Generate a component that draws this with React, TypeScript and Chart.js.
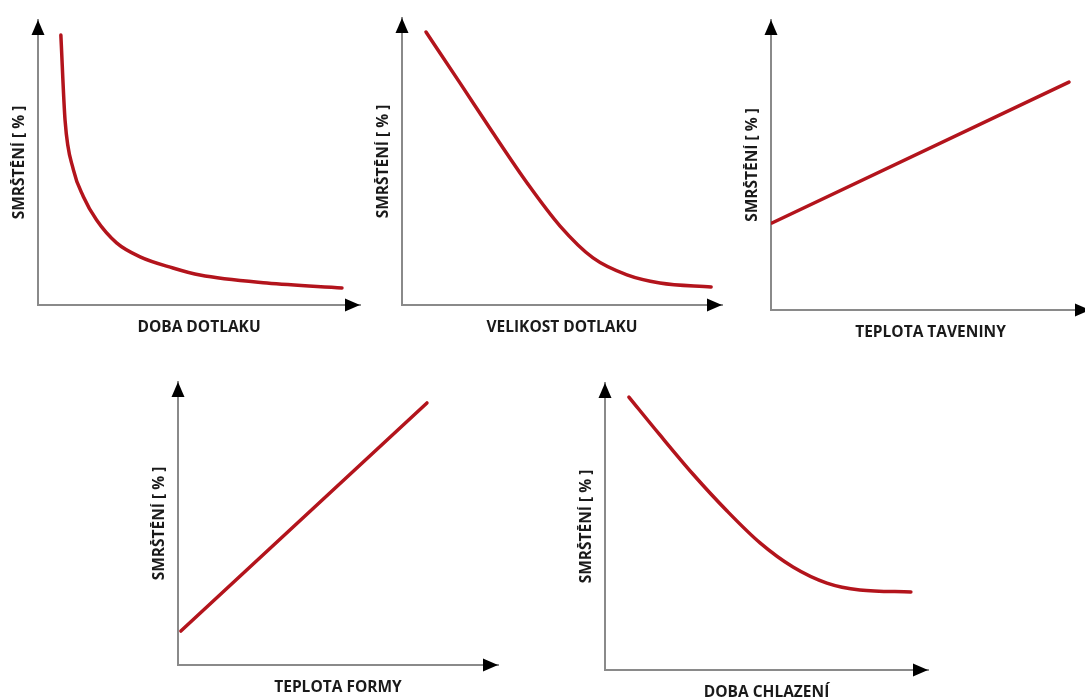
import React, { useEffect, useRef } from 'react';
import { Chart, registerables } from 'chart.js';

Chart.register(...registerables);

// ---- data (values in % of each axis length) ----
const Y_TITLE = 'SMRŠTĚNÍ [ % ]';
const X_TITLES = ['DOBA DOTLAKU', 'VELIKOST DOTLAKU', 'TEPLOTA TAVENINY', 'TEPLOTA FORMY', 'DOBA CHLAZENÍ'];

const dobaDotlakuX = [7.1, 8.4, 11.0, 14.1, 18.2, 24.4, 31.7, 41.9, 50.3, 71.1, 94.4];
const dobaDotlakuY = [94.7, 64.9, 47.4, 38.0, 29.8, 21.8, 16.9, 13.0, 10.5, 7.7, 6.0];

const velikostDotlakuX = [7.5, 18.1, 28.4, 39.1, 49.4, 59.7, 70.3, 80.6, 96.6];
const velikostDotlakuY = [95.1, 77.4, 60.0, 42.5, 27.5, 16.4, 10.5, 7.7, 6.3];

const teplotaTaveninyX = [0.3, 93.4];
const teplotaTaveninyY = [30.0, 78.6];

const teplotaFormyX = [0.9, 77.8];
const teplotaFormyY = [12.0, 92.6];

const dobaChlazeniX = [7.4, 17.0, 27.2, 37.8, 48.0, 58.2, 68.7, 78.9, 94.7];
const dobaChlazeniY = [95.1, 81.9, 68.3, 55.4, 44.3, 35.9, 30.3, 27.9, 27.2];

const SERIES_X = [dobaDotlakuX, velikostDotlakuX, teplotaTaveninyX, teplotaFormyX, dobaChlazeniX];
const SERIES_Y = [dobaDotlakuY, velikostDotlakuY, teplotaTaveninyY, teplotaFormyY, dobaChlazeniY];

// ---- layout (pixel positions of each panel's axes) ----
const PANELS = [
  { ox: 38, oy: 305, ty: 20, rx: 360 },
  { ox: 402, oy: 305, ty: 18, rx: 722 },
  { ox: 771, oy: 310, ty: 20, rx: 1090 },
  { ox: 178, oy: 665, ty: 382, rx: 498 },
  { ox: 605, oy: 670, ty: 383, rx: 928 },
];

const Y_SCALE_W = 28;
const X_SCALE_H = 33;
const PAD_TOP = 8;
const PAD_RIGHT = 6;

const FONT_FAMILY = "'Open Sans', 'DejaVu Sans', sans-serif";
const FONT_SIZE = 15.5;
const TEXT_COLOR = '#1a1a1a';
const LINE_COLOR = '#b3141c';
const AXIS_COLOR = '#8a8a8a';

const arrowPlugin = {
  id: 'axisArrows',
  afterDraw(chart: any) {
    const { ctx, chartArea } = chart;
    const { left, top, right, bottom } = chartArea;
    ctx.save();
    ctx.fillStyle = '#000';
    // up arrow
    ctx.beginPath();
    ctx.moveTo(left, top);
    ctx.lineTo(left - 6.5, top + 15);
    ctx.lineTo(left + 6.5, top + 15);
    ctx.closePath();
    ctx.fill();
    // right arrow
    ctx.beginPath();
    ctx.moveTo(right, bottom);
    ctx.lineTo(right - 15, bottom - 6.5);
    ctx.lineTo(right - 15, bottom + 6.5);
    ctx.closePath();
    ctx.fill();
    ctx.restore();
  },
};

function Panel({ index }: { index: number }) {
  const ref = useRef<HTMLCanvasElement | null>(null);
  const p = PANELS[index];
  const width = Y_SCALE_W + (p.rx - p.ox) + PAD_RIGHT;
  const height = PAD_TOP + (p.oy - p.ty) + X_SCALE_H;

  useEffect(() => {
    if (!ref.current) return;
    const xs = SERIES_X[index];
    const ys = SERIES_Y[index];
    const data = xs.map((x, i) => ({ x, y: ys[i] }));
    const lh = FONT_SIZE * 1.2;
    const chart = new Chart(ref.current, {
      type: 'line',
      data: {
        datasets: [
          {
            data,
            borderColor: LINE_COLOR,
            borderWidth: 3.5,
            pointRadius: 0,
            fill: false,
            cubicInterpolationMode: 'monotone',
            borderCapStyle: 'round',
          } as any,
        ],
      },
      options: {
        animation: false,
        responsive: false,
        devicePixelRatio: 1,
        events: [],
        layout: { padding: { left: 0, top: PAD_TOP, right: PAD_RIGHT, bottom: 0 } },
        plugins: { legend: { display: false }, tooltip: { enabled: false } },
        scales: {
          x: {
            type: 'linear',
            min: 0,
            max: 100,
            grid: { display: false, drawTicks: false },
            border: { display: true, color: AXIS_COLOR, width: 2 },
            ticks: { display: false },
            title: {
              display: true,
              text: X_TITLES[index],
              color: TEXT_COLOR,
              font: { family: FONT_FAMILY, size: FONT_SIZE, weight: 'bold', lineHeight: 1.2 },
              padding: { top: 13.7, bottom: X_SCALE_H - lh - 13.7 },
            },
          },
          y: {
            type: 'linear',
            min: 0,
            max: 100,
            grid: { display: false, drawTicks: false },
            border: { display: true, color: AXIS_COLOR, width: 2 },
            ticks: { display: false },
            title: {
              display: true,
              text: Y_TITLE,
              color: TEXT_COLOR,
              font: { family: FONT_FAMILY, size: FONT_SIZE, weight: 'bold', lineHeight: 1.2 },
              padding: { top: 0, bottom: Y_SCALE_W - lh },
            },
          },
        },
      } as any,
      plugins: [arrowPlugin],
    });
    return () => chart.destroy();
  }, [index]);

  return (
    <canvas
      ref={ref}
      width={width}
      height={height}
      style={{
        position: 'absolute',
        left: p.ox - Y_SCALE_W,
        top: p.ty - PAD_TOP,
        width,
        height,
      }}
    />
  );
}

export default function App() {
  return (
    <div
      style={{
        position: 'absolute',
        left: 0,
        top: 0,
        width: 1085,
        height: 697,
        overflow: 'hidden',
        background: '#fff',
      }}
    >
      {PANELS.map((_, i) => (
        <Panel key={i} index={i} />
      ))}
    </div>
  );
}
